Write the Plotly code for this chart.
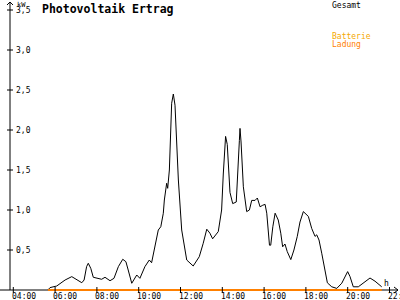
import plotly.graph_objects as go

# ---- data (hours of day, kW) ----
gesamt_t = [5.60, 5.70, 6.02, 6.42, 6.74, 6.98, 7.22, 7.33, 7.45, 7.53, 7.65, 7.77, 7.93, 8.17, 8.33,
            8.57, 8.76, 8.97, 9.18, 9.33, 9.44, 9.61, 9.85, 10.00, 10.24, 10.45, 10.56, 10.72, 10.88,
            11.00, 11.12, 11.17, 11.28, 11.33, 11.41, 11.52, 11.60, 11.68, 11.84, 12.00, 12.24, 12.55,
            12.84, 13.03, 13.20, 13.35, 13.48, 13.75, 13.91, 13.99, 14.10, 14.18, 14.31, 14.44, 14.61,
            14.76, 14.79, 14.84, 14.95, 15.11, 15.24, 15.35, 15.51, 15.62, 15.75, 15.88, 15.99, 16.07,
            16.20, 16.26, 16.36, 16.47, 16.62, 16.74, 16.83, 16.94, 17.05, 17.22, 17.37, 17.53, 17.66,
            17.82, 17.95, 18.06, 18.22, 18.38, 18.46, 18.57, 18.70, 18.86, 18.97, 19.18, 19.42, 19.66,
            19.82, 19.94, 20.05, 20.21, 20.45, 20.69, 21.01, 21.25, 21.57]
gesamt_kw = [0.00, 0.03, 0.05, 0.125, 0.167, 0.134, 0.091, 0.125, 0.292, 0.334, 0.271, 0.159, 0.146,
             0.134, 0.159, 0.116, 0.146, 0.292, 0.384, 0.354, 0.25, 0.084, 0.1875, 0.146, 0.292, 0.375,
             0.341, 0.541, 0.75, 0.791, 0.959, 1.125, 1.334, 1.271, 1.5, 2.334, 2.45, 2.31, 1.375, 0.75,
             0.375, 0.30, 0.416, 0.584, 0.76, 0.71, 0.64, 0.73, 1.0, 1.45, 1.92, 1.82, 1.22, 1.08, 1.10,
             1.87, 2.02, 1.85, 1.29, 0.98, 1.00, 1.12, 1.12, 1.15, 1.04, 1.06, 1.07, 0.96, 0.56, 0.56,
             0.79, 0.96, 0.875, 0.71, 0.54, 0.575, 0.48, 0.38, 0.50, 0.67, 0.85, 0.98, 0.94, 0.92, 0.77,
             0.67, 0.69, 0.625, 0.46, 0.25, 0.09, 0.04, 0.02, 0.085, 0.17, 0.23, 0.17, 0.04, 0.04, 0.085,
             0.15, 0.11, 0.04]
ladung_t = [5.60, 21.57]
ladung_kw = [0.0, 0.0]

x_ticks = [4, 6, 8, 10, 12, 14, 16, 18, 20, 22]
x_tick_labels = ["04:00", "06:00", "08:00", "10:00", "12:00", "14:00", "16:00", "18:00", "20:00", "22:00"]
y_ticks = [0.5, 1.0, 1.5, 2.0, 2.5, 3.0, 3.5]
y_tick_labels = ["0,5", "1,0", "1,5", "2,0", "2,5", "3,0", "3,5"]

title_text = "Photovoltaik Ertrag"
legend_items = [("Gesamt", "#000000"), ("Batterie", "#f5a800"), ("Ladung", "#ff7f00")]

# ---- scales ----
W, H = 400, 300
PX_PER_H = 20.9
PX_PER_KW = 80.0
X0_PX, T0 = 14.5, 4.0
Y0_PX = 290.0
xr = [T0 - X0_PX / PX_PER_H, T0 + (W - X0_PX) / PX_PER_H]
yr = [-(H - Y0_PX) / PX_PER_KW, Y0_PX / PX_PER_KW]
dx = 1.0 / PX_PER_H
dy = 1.0 / PX_PER_KW
axis_t = xr[0] + 10 * dx  # y axis line position

small = dict(family="DejaVu Sans Mono", size=8, color="#000000")

fig = go.Figure()
fig.add_trace(go.Scatter(x=gesamt_t, y=gesamt_kw, mode="lines",
                         line=dict(color="#000000", width=1), showlegend=False))
fig.add_trace(go.Scatter(x=ladung_t, y=ladung_kw, mode="lines",
                         line=dict(color="#ff8000", width=2), showlegend=False))

shapes = []
# axes
shapes.append(dict(type="line", x0=xr[0], x1=xr[0] + 398 * dx, y0=0, y1=0,
                   line=dict(color="#000000", width=1), layer="below"))
shapes.append(dict(type="line", x0=axis_t, x1=axis_t, y0=0, y1=yr[1] - 2 * dy,
                   line=dict(color="#000000", width=1), layer="below"))
# arrows
shapes.append(dict(type="path",
                   path=f"M {axis_t-3*dx},{yr[1]-5*dy} L {axis_t},{yr[1]-2*dy} L {axis_t+3*dx},{yr[1]-5*dy}",
                   line=dict(color="#000000", width=1)))
xa = xr[0] + 398 * dx
shapes.append(dict(type="path",
                   path=f"M {xa-4*dx},{3*dy} L {xa},0 L {xa-4*dx},{-3*dy}",
                   line=dict(color="#000000", width=1)))
# ticks
for t in x_ticks:
    shapes.append(dict(type="line", x0=t - 1.2 * dx, x1=t - 1.2 * dx, y0=3 * dy, y1=-3 * dy,
                       line=dict(color="#000000", width=1)))
for v in y_ticks:
    shapes.append(dict(type="line", x0=axis_t - 3 * dx, x1=axis_t + 3 * dx, y0=v, y1=v,
                       line=dict(color="#000000", width=1)))

ann = []
for t, lab in zip(x_ticks, x_tick_labels):
    ann.append(dict(x=t, y=0, xref="x", yref="y", text=lab, showarrow=False,
                    xanchor="left", yanchor="middle", xshift=-5, yshift=-6.5, font=small))
for v, lab in zip(y_ticks, y_tick_labels):
    ann.append(dict(x=axis_t, y=v, xref="x", yref="y", text=lab, showarrow=False,
                    xanchor="left", yanchor="middle", xshift=4, yshift=0, font=small))
ann.append(dict(x=axis_t, y=yr[1], xref="x", yref="y", text="kW", showarrow=False,
                xanchor="left", yanchor="middle", xshift=5, yshift=-4.5,
                font=dict(family="DejaVu Sans Mono", size=7, color="#000000")))
ann.append(dict(x=xa, y=0, xref="x", yref="y", text="h", showarrow=False,
                xanchor="left", yanchor="middle", xshift=-16, yshift=7, font=small))
ann.append(dict(x=40 / W, y=1 - 9 / H, xref="paper", yref="paper", text="<b>" + title_text + "</b>",
                showarrow=False, xanchor="left", yanchor="middle",
                font=dict(family="DejaVu Sans Mono", size=11.5, color="#000000")))
legend_y = [5, 36.5, 44.5]
for (name, col), ly in zip(legend_items, legend_y):
    ann.append(dict(x=330 / W, y=1 - ly / H, xref="paper", yref="paper", text=name,
                    showarrow=False, xanchor="left", yanchor="middle",
                    font=dict(family="DejaVu Sans Mono", size=8, color=col)))

fig.update_layout(
    width=W, height=H, margin=dict(l=0, r=0, t=0, b=0),
    paper_bgcolor="#ffffff", plot_bgcolor="#ffffff",
    xaxis=dict(range=xr, visible=False, fixedrange=True),
    yaxis=dict(range=yr, visible=False, fixedrange=True),
    shapes=shapes, annotations=ann, showlegend=False,
)
fig.write_html("out.html")
